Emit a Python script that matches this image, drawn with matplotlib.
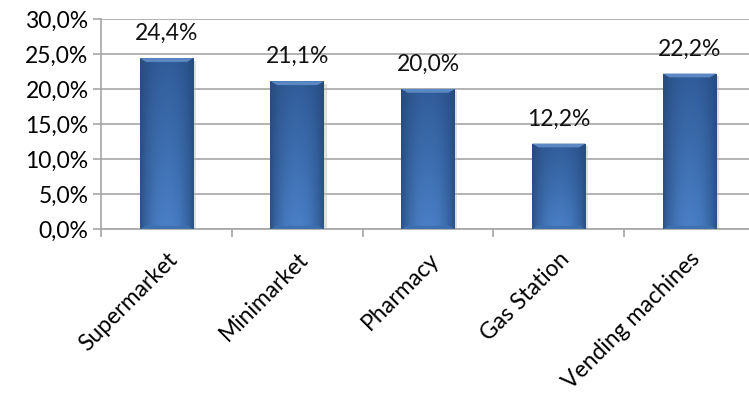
import matplotlib.pyplot as plt
import numpy as np
from matplotlib.patches import Polygon

# Data
categories = ['Supermarket', 'Minimarket', 'Pharmacy', 'Gas Station', 'Vending machines']
shares = [24.4, 21.1, 20.0, 12.2, 22.2]
y_ticks = [0, 5, 10, 15, 20, 25, 30]

plt.rcParams['font.family'] = ['Lato', 'DejaVu Sans']
FS = 16.5

fig = plt.figure(figsize=(7.49, 4.03), dpi=100)
ax = fig.add_axes([0.135, 0.432, 0.873, 0.521])

x = np.arange(len(categories))
width = 0.41
bars = ax.bar(x, shares, width=width, color='#3a68a8', edgecolor='none', zorder=3)

# shaded fill for each bar: dark sides, lighter centre, brighter towards the bottom
cols = np.linspace(-1, 1, 60)
rows = np.linspace(0, 1, 100)[:, None]
side = np.abs(cols)[None, :] ** 2.2
top_c = np.array([0.19, 0.36, 0.60])
bot_c = np.array([0.29, 0.50, 0.78])
edge_c = np.array([0.14, 0.28, 0.47])
base = top_c + (bot_c - top_c) * rows[..., None]
grad = base * (1 - side[..., None] * 0.8) + edge_c * side[..., None] * 0.8
grad = np.clip(grad, 0, 1)

for rect, val in zip(bars, shares):
    x0 = rect.get_x()
    x1 = x0 + rect.get_width()
    # soft shadow under the bar
    ax.add_patch(plt.Rectangle((x0 + 0.02, -0.35), rect.get_width(), val,
                               color='#b8b8b8', alpha=0.45, zorder=2, lw=0))
    im = ax.imshow(grad, extent=(x0, x1, 0, val), aspect='auto', origin='upper', zorder=4)
    im.set_clip_path(rect)
    # bevel on the top edge
    bev = 0.55
    dx = 0.05
    ax.add_patch(Polygon([(x0, val), (x1, val), (x1 - dx, val - bev), (x0 + dx, val - bev)],
                         closed=True, color='#5b87c2', lw=0, zorder=5))
    # bevel on the bottom edge
    ax.add_patch(Polygon([(x0, 0), (x1, 0), (x1 - dx, bev * 0.8), (x0 + dx, bev * 0.8)],
                         closed=True, color='#3f6fae', lw=0, zorder=5))
    ax.text(rect.get_x() + rect.get_width() / 2, val + 2.0, f'{val:.1f}%'.replace('.', ','),
            ha='center', va='bottom', fontsize=FS, color='#111111', zorder=6)

ax.set_xlim(-0.5, len(categories) - 0.5)
ax.set_ylim(0, 30)
ax.set_yticks(y_ticks)
ax.set_yticklabels([f'{v:.1f}%'.replace('.', ',') for v in y_ticks])
ax.yaxis.grid(True, color='#a6a6a6', linewidth=1.2, zorder=0)
ax.set_axisbelow(True)

# category ticks sit between the bars, labels sit under the bars
ax.set_xticks(np.arange(len(categories) + 1) - 0.5)
ax.set_xticklabels([])
ax.set_xticks(x, minor=True)
ax.set_xticklabels(categories, minor=True, rotation=45, ha='right', va='top',
                   rotation_mode='anchor', fontsize=FS)
ax.tick_params(axis='x', which='minor', length=0, pad=14)
ax.tick_params(axis='x', which='major', length=6, color='#a6a6a6', width=1.2)
ax.tick_params(axis='y', length=6, color='#a6a6a6', width=1.2, labelsize=FS, pad=3)

for s in ['top', 'right']:
    ax.spines[s].set_visible(False)
for s in ['left', 'bottom']:
    ax.spines[s].set_color('#a6a6a6')
    ax.spines[s].set_linewidth(1.2)

fig.savefig('out.png', dpi=100)
